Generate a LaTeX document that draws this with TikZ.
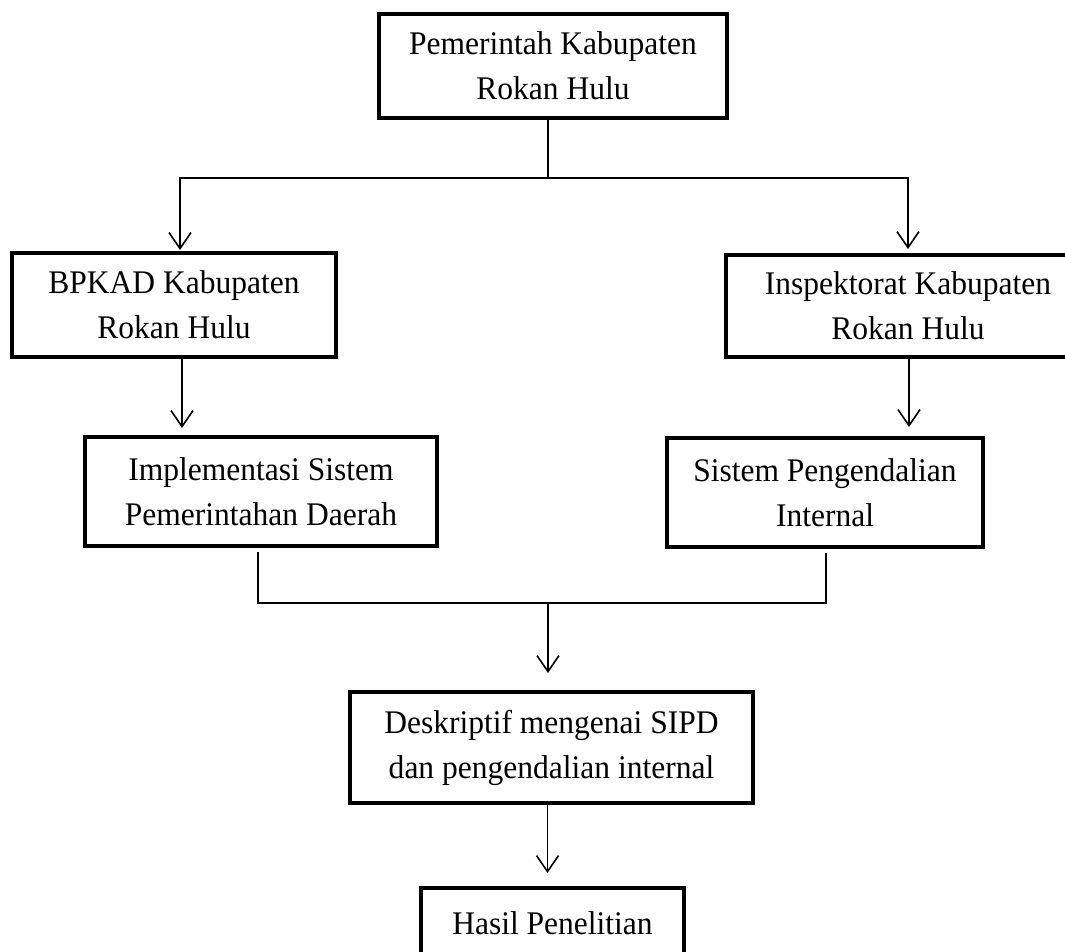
\documentclass[tikz,border=0pt]{standalone}
\usepackage{fontspec}
\setmainfont{Liberation Serif}[FakeStretch=0.955]
\usetikzlibrary{arrows.meta,calc}
\tikzset{
  box/.style={draw=black, line width=4.8pt, rectangle, outer sep=0pt, inner sep=0pt,
    align=center, font=\fontsize{33}{45}\selectfont},
  conn/.style={draw=black, line width=1.6pt},
  arr/.style={conn, -{Straight Barb[length=16pt,width=22pt]}},
}
\begin{document}
\begin{tikzpicture}[x=1pt,y=-1pt]
\useasboundingbox (0,0) rectangle (1065,952);
\fill[white] (0,0) rectangle (1065,952);
\clip (0,0) rectangle (1065,952);

\node[box, minimum width=348pt, minimum height=104pt] (top) at (553,66) {Pemerintah Kabupaten\\Rokan Hulu};
\node[box, minimum width=324pt, minimum height=104pt] (bpkad) at (174,305) {BPKAD Kabupaten\\Rokan Hulu};
\node[box, minimum width=364pt, minimum height=102pt] (insp) at (908,306) {Inspektorat Kabupaten\\Rokan Hulu};
\node[box, minimum width=352pt, minimum height=109pt] (impl) at (261,491.5) {Implementasi Sistem\\Pemerintahan Daerah};
\node[box, minimum width=316pt, minimum height=109pt] (sist) at (825,492.5) {Sistem Pengendalian\\Internal};
\node[box, minimum width=403pt, minimum height=111pt] (desk) at (551.5,747.5) {Deskriptif mengenai SIPD\\dan pengendalian internal};
\node[box, minimum width=263pt, minimum height=70pt] (hasil) at (552.5,923) {Hasil Penelitian};

% top split
\coordinate (ts) at (548,178);
\draw[conn] ([xshift=-5pt]top.south) -- (ts);
\draw[arr, shorten >=3pt] (ts) -| ([xshift=6pt]bpkad.north);
\draw[arr, shorten >=6pt] (ts) -| (insp.north);

% level 2 -> level 3
\draw[arr, shorten >=9pt] ([xshift=8pt]bpkad.south) -- ([xshift=8pt]bpkad.south |- impl.north);
\draw[arr, shorten >=11pt] ([xshift=1pt]insp.south) -- ([xshift=1pt]insp.south |- sist.north);

% merge
\coordinate (jl) at (258,603);
\coordinate (jr) at (826,603);
\coordinate (jc) at (548,603);
\draw[conn] ([yshift=-6pt]jl |- impl.south) -- (jl) -- (jr) -- ([yshift=-6pt]jr |- sist.south);
\draw[arr, shorten >=19pt] (jc) -- (jc |- desk.north);

% desk -> hasil
\draw[arr, shorten >=15pt] ([xshift=-4pt]desk.south) -- ([xshift=-4pt]desk.south |- hasil.north);
\end{tikzpicture}
\end{document}
